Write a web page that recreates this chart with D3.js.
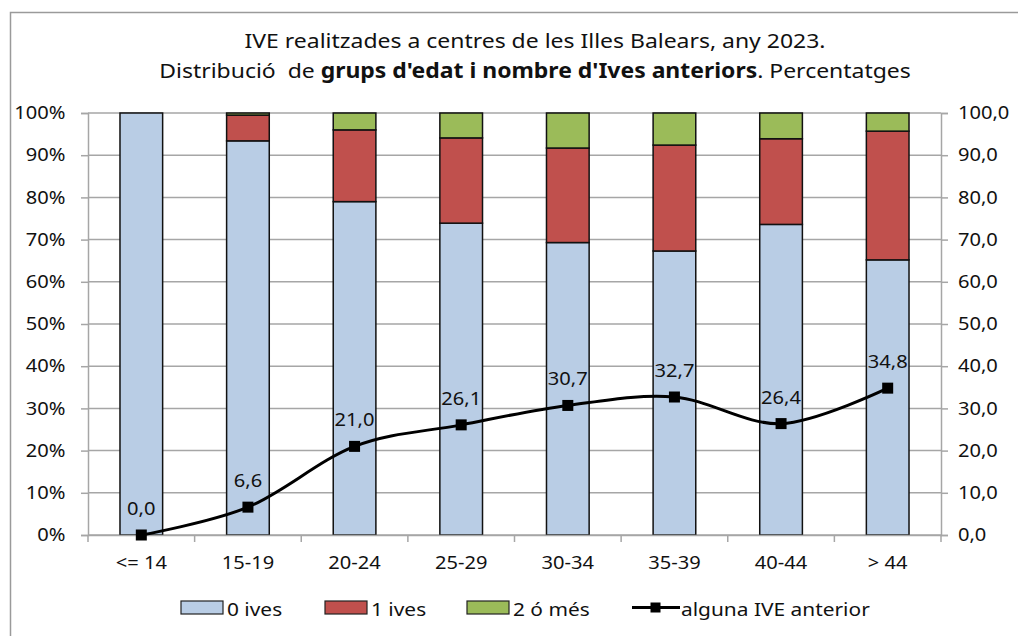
<!DOCTYPE html>
<html>
<head>
<meta charset="utf-8">
<script src="https://cdn.jsdelivr.net/npm/d3@7"></script>
<style>
  body { margin: 0; background: #fff; }
  svg { display: block; font-family: "Noto Sans", "Open Sans", sans-serif; }
</style>
</head>
<body>
<div id="app"></div>
<script>
const categories = ["<= 14", "15-19", "20-24", "25-29", "30-34", "35-39", "40-44", "> 44"]
const ives0 = [100, 93.4, 79.0, 73.9, 69.3, 67.3, 73.6, 65.2]
const ives1 = [0, 6.1, 17.0, 20.2, 22.4, 25.1, 20.3, 30.5]
const ives2 = [0, 0.5, 4.0, 5.9, 8.3, 7.6, 6.1, 4.3]
const anterior = [0.0, 6.6, 21.0, 26.1, 30.7, 32.7, 26.4, 34.8]
const seriesNames = ["0 ives", "1 ives", "2 ó més"]
const seriesColors = ["#b9cde5", "#c0504d", "#9bbb59"]
const lineName = "alguna IVE anterior"

const width = 1018, height = 636
const plot = {left: 88, right: 941, top: 113, bottom: 535}
const K = 1.13 // text in the reference is a bit wider than the font
const FS = 17.8

const svg = d3.select('#app').append('svg')
    .attr('width', width)
    .attr('height', height)

// text at (x,y) stretched horizontally by K
const label = (g, x, y, txt, size = FS, anchor = 'start') =>
    g.append('text')
        .attr('transform', `translate(${x},${y}) scale(${K},1)`)
        .attr('text-anchor', anchor)
        .attr('font-size', size)
        .attr('fill', '#111')
        .text(txt)

// outer chart border
svg.append('rect')
    .attr('x', 10.5).attr('y', 12.5)
    .attr('width', 1040).attr('height', 660)
    .attr('fill', 'none')
    .attr('stroke', '#9a9a9a')
    .attr('stroke-width', 1.5)

// title
const title = svg.append('text')
    .attr('transform', `translate(535,0) scale(1.12,1)`)
    .attr('text-anchor', 'middle')
    .attr('font-size', 20.5)
    .attr('fill', '#111')
title.append('tspan').attr('x', 0).attr('y', 48)
    .text('IVE realitzades a centres de les Illes Balears, any 2023.')
const t2 = title.append('tspan').attr('x', 0).attr('y', 78)
t2.append('tspan').text('Distribució\u00a0 de ')
t2.append('tspan').attr('font-weight', 'bold').text("grups d'edat i nombre d'Ives anteriors")
t2.append('tspan').text('. Percentatges')

const x = d3.scaleBand()
    .domain(categories)
    .range([plot.left, plot.right])
    .paddingInner(0.6)
    .paddingOuter(0.3)

const xc = d => x(d) + x.bandwidth() / 2

const yL = d3.scaleLinear().domain([0, 1]).range([plot.bottom, plot.top])
const yR = d3.scaleLinear().domain([0, 100]).range([plot.bottom, plot.top])

// gridlines
svg.append('g')
    .selectAll('line')
    .data(yR.ticks(10))
    .join('line')
    .attr('x1', plot.left).attr('x2', plot.right)
    .attr('y1', d => yR(d)).attr('y2', d => yR(d))
    .attr('stroke', '#a6a6a6')
    .attr('stroke-width', 1.5)

const styleAxis = (g) => {
    g.select('.domain').attr('stroke', '#a6a6a6').attr('stroke-width', 1.5)
    g.selectAll('.tick line').attr('stroke', '#a6a6a6').attr('stroke-width', 1.5)
    g.selectAll('text')
        .attr('font-size', FS)
        .attr('fill', '#111')
        .attr('font-family', '"Noto Sans", sans-serif')
        .attr('transform', `scale(${K},1)`)
}

// left axis
svg.append('g')
    .attr('transform', `translate(${plot.left},0)`)
    .call(d3.axisLeft(yL).ticks(10).tickFormat(d3.format('.0%')).tickSize(7).tickPadding(13))
    .call(styleAxis)

// right axis
svg.append('g')
    .attr('transform', `translate(${plot.right},0)`)
    .call(d3.axisRight(yR).ticks(10).tickFormat(d => d3.format('.1f')(d).replace('.', ',')).tickSize(7).tickPadding(8))
    .call(styleAxis)

// stacked bars
const rows = categories.map((c, i) => ({cat: c, s0: ives0[i] / 100, s1: ives1[i] / 100, s2: ives2[i] / 100}))
const stack = d3.stack().keys(['s0', 's1', 's2'])(rows)

svg.append('g')
    .selectAll('g')
    .data(stack)
    .join('g')
    .attr('fill', (d, i) => seriesColors[i])
    .selectAll('rect')
    .data(d => d.filter(p => p[1] - p[0] > 0))
    .join('rect')
    .attr('x', d => x(d.data.cat))
    .attr('width', x.bandwidth())
    .attr('y', d => yL(d[1]))
    .attr('height', d => yL(d[0]) - yL(d[1]))
    .attr('stroke', '#111')
    .attr('stroke-width', 1.5)

// x axis
const bottomAxis = svg.append('g')
    .attr('transform', `translate(0,${plot.bottom})`)
    .call(d3.axisBottom(x).tickSize(0).tickPadding(21))
    .call(styleAxis)
const bounds = d3.range(categories.length + 1).map(i => plot.left + i * (plot.right - plot.left) / categories.length)
bottomAxis.selectAll('.xtick')
    .data(bounds)
    .join('line')
    .attr('x1', d => d).attr('x2', d => d)
    .attr('y1', 0).attr('y2', 7)
    .attr('stroke', '#a6a6a6')
    .attr('stroke-width', 1.5)

// line
const line = d3.line()
    .x((d, i) => xc(categories[i]))
    .y(d => yR(d))
    .curve(d3.curveCardinal.tension(0))

svg.append('path')
    .datum(anterior)
    .attr('d', line)
    .attr('fill', 'none')
    .attr('stroke', '#000')
    .attr('stroke-width', 3)

svg.append('g')
    .selectAll('rect')
    .data(anterior)
    .join('rect')
    .attr('x', (d, i) => xc(categories[i]) - 5.5)
    .attr('y', d => yR(d) - 5.5)
    .attr('width', 11).attr('height', 11)
    .attr('fill', '#000')

const dataLabels = svg.append('g')
anterior.forEach((d, i) => {
    label(dataLabels, xc(categories[i]), yR(d) - 20, d3.format('.1f')(d).replace('.', ','), FS, 'middle')
})

// legend
const legend = svg.append('g')
const legendX = [181, 325, 467]
seriesNames.forEach((name, i) => {
    legend.append('rect')
        .attr('x', legendX[i]).attr('y', 601)
        .attr('width', 42).attr('height', 13)
        .attr('fill', seriesColors[i])
        .attr('stroke', '#222').attr('stroke-width', 1.2)
    label(legend, legendX[i] + 46, 616, name, 18.5)
})
legend.append('line')
    .attr('x1', 632).attr('x2', 680)
    .attr('y1', 607.5).attr('y2', 607.5)
    .attr('stroke', '#000').attr('stroke-width', 3)
legend.append('rect')
    .attr('x', 650.5).attr('y', 602.5)
    .attr('width', 10).attr('height', 10)
    .attr('fill', '#000')
label(legend, 681, 616, lineName, 18.5)
</script>
</body>
</html>
